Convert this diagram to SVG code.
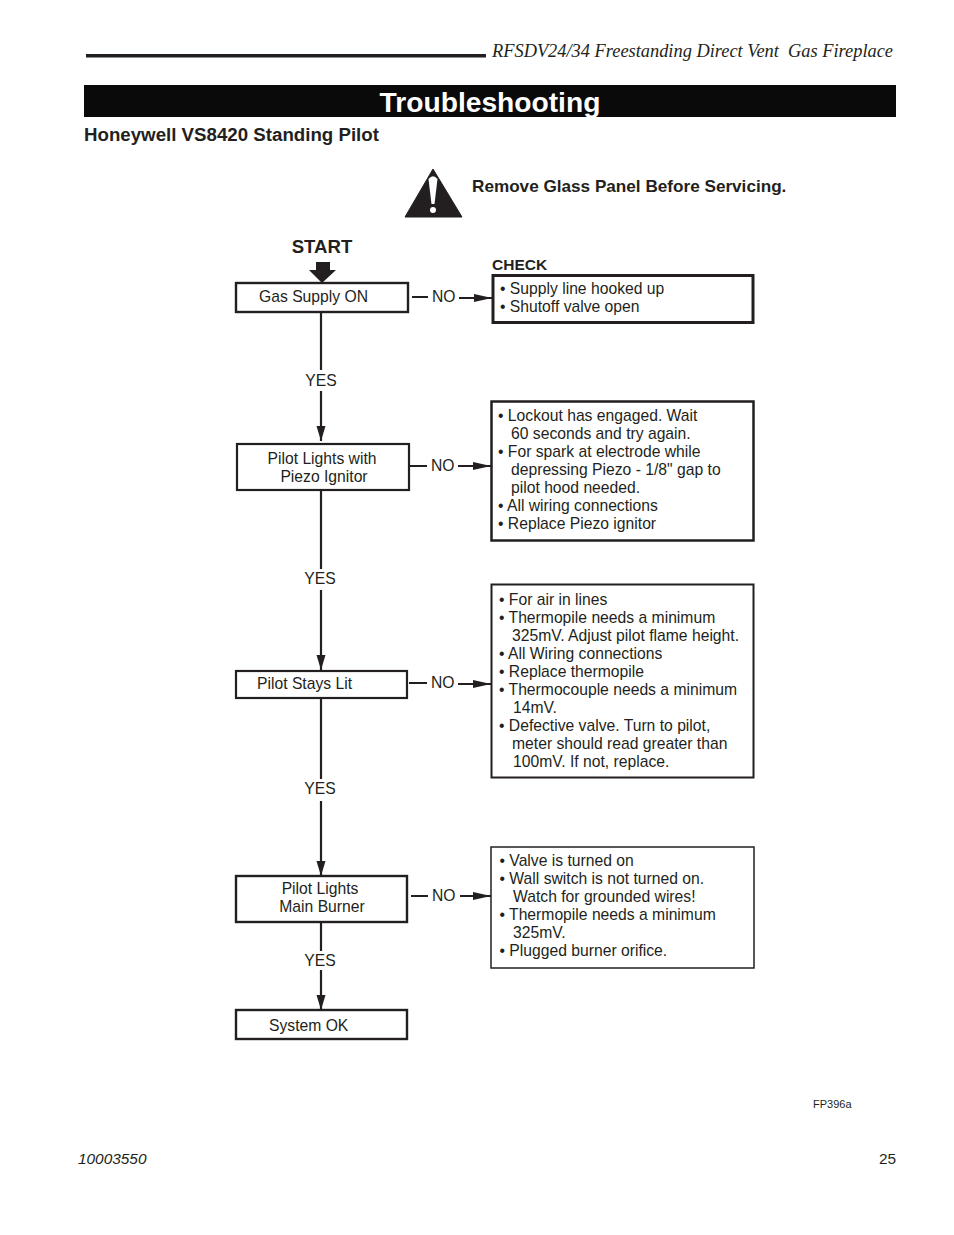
<svg xmlns="http://www.w3.org/2000/svg" width="954" height="1235" viewBox="0 0 954 1235">
<style>
text{font-family:"Liberation Sans",Arial,sans-serif;fill:#231f20}
.t,.l{font-size:15.700px}
.b{font-weight:bold}
.box{fill:#fff;stroke:#231f20}
.ln{stroke:#231f20;stroke-width:2.200;fill:none}
</style>
<defs>
<marker id="ah" markerUnits="userSpaceOnUse" markerWidth="18" markerHeight="12" refX="18" refY="6" orient="auto"><path d="M0 2L18 6L0 10Z" fill="#231f20"/></marker>
<marker id="av" markerUnits="userSpaceOnUse" markerWidth="15" markerHeight="12" refX="15" refY="6" orient="auto"><path d="M0 1.500L15 6L0 10.500Z" fill="#231f20"/></marker>
</defs>
<rect width="954" height="1235" fill="#fff"/>
<g id="header">
<rect x="86" y="54" width="400" height="3.500" fill="#231f20"/>
<text x="492" y="57" style="font-family:'Liberation Serif',serif;font-style:italic;font-size:19px;white-space:pre" textLength="401" lengthAdjust="spacingAndGlyphs">RFSDV24/34 Freestanding Direct Vent  Gas Fireplace</text>
<rect x="84" y="85" width="812" height="32" fill="#0a0a0a"/>
<text x="490" y="112" text-anchor="middle" class="b" style="font-size:28.200px;fill:#fff">Troubleshooting</text>
<text x="84" y="141" class="b" style="font-size:18.700px">Honeywell VS8420 Standing Pilot</text>
</g>
<g id="warning">
<path d="M433 169L462 217H405Z" fill="#231f20" stroke="#231f20" stroke-linejoin="round"/>
<path d="M428.500 179Q433 173.500 437.500 179L434.500 204H431.500Z" fill="#fff"/>
<circle cx="433" cy="210" r="3" fill="#fff"/>
<text x="472" y="192" class="b" style="font-size:17.150px">Remove Glass Panel Before Servicing.</text>
</g>
<g id="connectors">
<path class="ln" d="M321 313V370M321 391V441" marker-end="url(#av)"/>
<path class="ln" d="M321 491V569M321 590V670" marker-end="url(#av)"/>
<path class="ln" d="M321 699V779M321 801V876" marker-end="url(#av)"/>
<path class="ln" d="M321 923V951M321 970V1010" marker-end="url(#av)"/>
<path class="ln" d="M412 297H428M459 298H492" marker-end="url(#ah)"/>
<path class="ln" d="M410 466H427M458 466H491" marker-end="url(#ah)"/>
<path class="ln" d="M409 683H427M458 684H491" marker-end="url(#ah)"/>
<path class="ln" d="M411 896H428M460 896H491" marker-end="url(#ah)"/>
<path d="M316 262H330V270H336L322 283L309 270H316Z" fill="#231f20"/>
<g>
<text x="321" y="386" text-anchor="middle" class="l">YES</text>
<text x="320" y="584" text-anchor="middle" class="l">YES</text>
<text x="320" y="794" text-anchor="middle" class="l">YES</text>
<text x="320" y="966" text-anchor="middle" class="l">YES</text>
<text x="432" y="302" class="l">NO</text>
<text x="431" y="471" class="l">NO</text>
<text x="431" y="688" class="l">NO</text>
<text x="432" y="901" class="l">NO</text>
</g>
</g>
<g id="start"><text x="322" y="253" text-anchor="middle" class="b" style="font-size:18.600px">START</text></g>
<g id="gas-supply"><rect class="box" x="236" y="283" width="172" height="29" stroke-width="2.400"/><text x="259" y="302" class="t">Gas Supply ON</text></g>
<g id="pilot-lights"><rect class="box" x="237" y="444" width="172" height="46" stroke-width="2.200"/><text x="322" y="464" text-anchor="middle" class="t">Pilot Lights with</text><text x="324" y="482" text-anchor="middle" class="t">Piezo Ignitor</text></g>
<g id="pilot-stays"><rect class="box" x="236" y="671" width="171" height="27" stroke-width="2.200"/><text x="257" y="689" class="t">Pilot Stays Lit</text></g>
<g id="main-burner"><rect class="box" x="236" y="876" width="171" height="46" stroke-width="2.400"/><text x="320" y="894" text-anchor="middle" class="t">Pilot Lights</text><text x="322" y="912" text-anchor="middle" class="t">Main Burner</text></g>
<g id="system-ok"><rect class="box" x="236" y="1010" width="171" height="29" stroke-width="2.400"/><text x="269" y="1031" class="t">System OK</text></g>
<g id="check-1"><text x="492" y="270" class="b" style="font-size:15.500px">CHECK</text><rect class="box" x="493" y="275.500" width="260" height="47" stroke-width="3"/>
<text x="500" y="294" class="t">• Supply line hooked up</text><text x="500" y="312" class="t">• Shutoff valve open</text></g>
<g id="check-2"><rect class="box" x="491.500" y="401.500" width="262" height="139" stroke-width="2.500"/>
<text x="498" y="421" class="t">• Lockout has engaged. Wait</text><text x="511" y="439" class="t">60 seconds and try again.</text><text x="498" y="457" class="t">• For spark at electrode while</text><text x="511" y="475" class="t">depressing Piezo - 1/8" gap to</text><text x="511" y="493" class="t">pilot hood needed.</text><text x="498" y="511" class="t">• All wiring connections</text><text x="498" y="529" class="t">• Replace Piezo ignitor</text></g>
<g id="check-3"><rect class="box" x="491.500" y="584.500" width="262" height="193" stroke-width="2"/>
<text x="499" y="605" class="t">• For air in lines</text><text x="499" y="623" class="t">• Thermopile needs a minimum</text><text x="512" y="641" class="t">325mV. Adjust pilot flame height.</text><text x="499" y="659" class="t">• All Wiring connections</text><text x="499" y="677" class="t">• Replace thermopile</text><text x="499" y="695" class="t">• Thermocouple needs a minimum</text><text x="513" y="713" class="t">14mV.</text><text x="499" y="731" class="t">• Defective valve. Turn to pilot,</text><text x="512" y="749" class="t">meter should read greater than</text><text x="513" y="767" class="t">100mV. If not, replace.</text></g>
<g id="check-4"><rect class="box" x="491" y="847" width="263" height="121" stroke-width="1.500"/>
<text x="499.500" y="866" class="t">• Valve is turned on</text><text x="499.500" y="884" class="t">• Wall switch is not turned on.</text><text x="513" y="902" class="t">Watch for grounded wires!</text><text x="499.500" y="920" class="t">• Thermopile needs a minimum</text><text x="513" y="938" class="t">325mV.</text><text x="499.500" y="956" class="t">• Plugged burner orifice.</text></g>
<g id="footer">
<text x="813" y="1108" style="font-size:11px">FP396a</text>
<text x="78" y="1164" style="font-size:15.400px;font-style:italic">10003550</text>
<text x="896" y="1164" text-anchor="end" style="font-size:15.400px">25</text>
</g>
</svg>
